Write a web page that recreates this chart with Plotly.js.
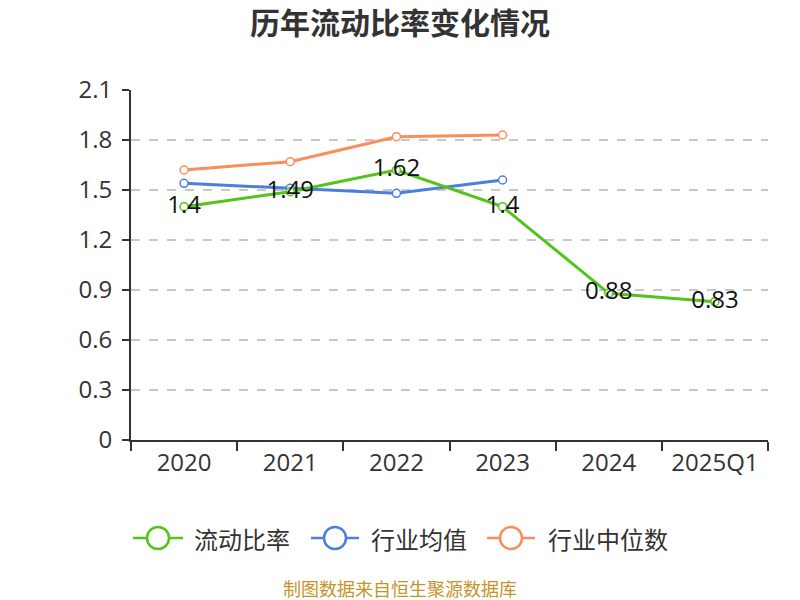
<!DOCTYPE html>
<html>
<head>
<meta charset="utf-8">
<script src="https://cdn.plot.ly/plotly-3.0.1.min.js"></script>
<style>html,body{margin:0;padding:0;background:#fff;}#chart{width:800px;height:600px;}</style>
</head>
<body>
<div id="chart"></div>
<script>
const categories = ["2020", "2021", "2022", "2023", "2024", "2025Q1"];
const currentRatio = [1.4, 1.49, 1.62, 1.4, 0.88, 0.83];
const industryMean = [1.54, 1.51, 1.48, 1.56, null, null];
const industryMedian = [1.62, 1.67, 1.82, 1.83, null, null];
const currentRatioLabels = ["1.4", "1.49", "1.62", "1.4", "0.88", "0.83"];
const seriesNames = ["流动比率", "行业均值", "行业中位数"];
const yTicks = [0, 0.3, 0.6, 0.9, 1.2, 1.5, 1.8, 2.1];
const yTickLabels = ["0", "0.3", "0.6", "0.9", "1.2", "1.5", "1.8", "2.1"];

const FONT = '"Open Sans", "Noto Sans CJK SC", sans-serif';
const CJK = '"Noto Sans CJK SC", sans-serif';
const GREEN = '#52c41a', BLUE = '#4a7fe0', ORANGE = '#fc8c5a';

const M = {l: 131, r: 32, t: 90, b: 160};
const PW = 800 - M.l - M.r, PH = 600 - M.t - M.b;
const px = p => (p - M.l) / PW;
const py = p => (M.t + PH - p) / PH;

function series(name, y, color, extra) {
  return Object.assign({
    type: 'scatter', mode: 'lines+markers', name: name,
    x: categories, y: y,
    line: {color: color, width: 3},
    marker: {symbol: 'circle', size: 8, color: '#fff', line: {color: color, width: 1.5}},
    connectgaps: false, hoverinfo: 'x+y', showlegend: false
  }, extra || {});
}

const data = [
  series(seriesNames[1], industryMean, BLUE),
  series(seriesNames[2], industryMedian, ORANGE),
  series(seriesNames[0], currentRatio, GREEN, {
    mode: 'lines+markers+text', text: currentRatioLabels,
    textposition: 'middle center',
    textfont: {family: FONT, size: 24, color: '#111'}
  })
];

// custom legend (styles only)
const legendItems = [
  {name: seriesNames[0], color: GREEN, l0: 133, l1: 183, cx: 158, tx: 192},
  {name: seriesNames[1], color: BLUE, l0: 311, l1: 359, cx: 335, tx: 369},
  {name: seriesNames[2], color: ORANGE, l0: 487, l1: 535, cx: 511, tx: 546}
];
const LY = 538;
const shapes = [], annotations = [];
legendItems.forEach(it => {
  shapes.push({type: 'line', xref: 'paper', yref: 'paper',
    x0: px(it.l0), x1: px(it.l1), y0: py(LY), y1: py(LY),
    line: {color: it.color, width: 2.5}});
  shapes.push({type: 'circle', xref: 'paper', yref: 'paper',
    xsizemode: 'pixel', ysizemode: 'pixel', xanchor: px(it.cx), yanchor: py(LY),
    x0: -11, x1: 11, y0: -11, y1: 11,
    fillcolor: '#fff', line: {color: it.color, width: 2.5}});
  annotations.push({text: it.name, xref: 'paper', yref: 'paper',
    x: px(it.tx), y: py(LY), xanchor: 'left', yanchor: 'middle', showarrow: false,
    font: {family: CJK, size: 24, color: '#333'}});
});
annotations.push({
  text: '制图数据来自恒生聚源数据库', xref: 'paper', yref: 'paper',
  x: px(400), y: py(588), xanchor: 'center', yanchor: 'middle', showarrow: false,
  font: {family: CJK, size: 18, color: '#c8922a'}
});

const layout = {
  width: 800, height: 600,
  margin: M,
  paper_bgcolor: '#fff', plot_bgcolor: '#fff',
  font: {family: FONT, color: '#333'},
  title: {text: '<b>历年流动比率变化情况</b>', x: 0.5, xanchor: 'center', y: 1 - 23 / 600, yanchor: 'middle',
          font: {family: CJK, size: 30, color: '#333'}},
  xaxis: {
    type: 'category', categoryorder: 'array', categoryarray: categories,
    range: [-0.5, 5.5], tickson: 'boundaries',
    showline: true, linecolor: '#333', linewidth: 2,
    ticks: 'outside', ticklen: 9, tickcolor: '#333', tickwidth: 2,
    tickfont: {family: FONT, size: 24, color: '#333'},
    showgrid: false, zeroline: false, fixedrange: true
  },
  yaxis: {
    range: [0, 2.1], tickvals: yTicks, ticktext: yTickLabels,
    showline: true, linecolor: '#333', linewidth: 2,
    ticks: 'outside', ticklen: 7, tickcolor: '#333', tickwidth: 2,
    ticklabelstandoff: 5,
    tickfont: {family: FONT, size: 24, color: '#333'},
    showgrid: true, gridcolor: '#c8c8c8', griddash: 'dash', gridwidth: 1.5,
    zeroline: false, fixedrange: true
  },
  showlegend: false,
  shapes: shapes,
  annotations: annotations
};

Plotly.newPlot('chart', data, layout, {displayModeBar: false, staticPlot: true});
</script>
</body>
</html>
